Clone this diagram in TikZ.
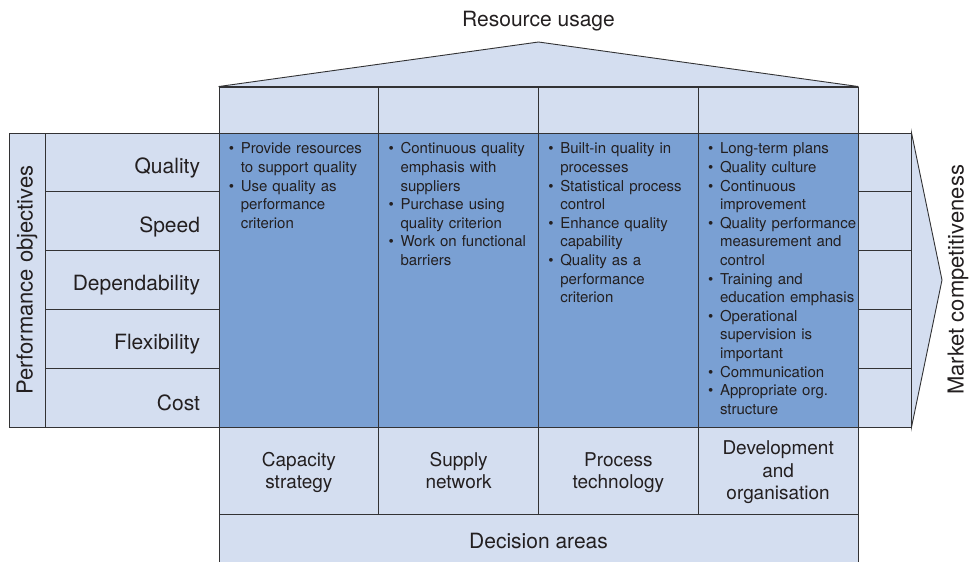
\documentclass[tikz,border=0pt]{standalone}
\usepackage{fontspec}
\setmainfont{TeX Gyre Heros}
\usetikzlibrary{positioning}
\definecolor{lightblue}{RGB}{212,222,240}
\definecolor{midblue}{RGB}{122,160,211}
\definecolor{linegray}{RGB}{50,50,52}
\definecolor{textgray}{RGB}{35,31,32}
\newcommand{\bitem}[1]{\par\hangindent=12pt\hangafter=1\noindent\makebox[12pt][l]{\textbullet}#1}
\tikzset{
	cell/.style={draw=linegray,fill=lightblue,line width=0.9pt,inner sep=0,text=textgray},
	colcell/.style={cell,minimum width=159.75pt},
	bluecell/.style={colcell,fill=midblue,minimum height=294pt},
	rowcell/.style={cell,minimum width=174pt,minimum height=58.8pt,text width=136pt,align=right,
		font=\fontsize{21}{24}\selectfont},
	mktcell/.style={cell,minimum width=53pt,minimum height=58.8pt},
	biglabel/.style={text=textgray,font=\fontsize{21}{24}\selectfont},
	declabel/.style={colcell,minimum height=87pt,align=center,font=\fontsize{19}{22.5}\selectfont},
	notes/.style={anchor=north west,inner xsep=10pt,inner ysep=2.5pt,text width=150pt,align=left,
		text=textgray,font=\fontsize{15}{18.6}\selectfont}
}
\begin{document}
\begin{tikzpicture}[x=1pt,y=-1pt]
	\useasboundingbox (0,0) rectangle (977,562);

	%% roof: resource usage
	\coordinate (apex) at (538.5,42);
	\foreach \i in {1,...,4}
		\node[colcell,minimum height=46pt] (res\i) at ({219+159.75*(\i-0.5)},110) {};
	\filldraw[fill=lightblue,draw=linegray,line width=0.9pt]
		(res1.north west) -- (apex) -- (res4.north east) -- cycle;
	\node[biglabel] (resusage) at (538.5,21) {Resource usage};

	%% performance objectives (left)
	\node[cell,rotate=90,minimum width=294pt,minimum height=36pt,
		font=\fontsize{22}{24}\selectfont] (perfobj) at (27,280) {Performance objectives};
	\foreach \lab [count=\i] in {Quality,Speed,Dependability,Flexibility,Cost}
		\node[rowcell] (obj\i) at (132,{133+58.8*(\i-0.5)}) {\raisebox{-5.5pt}[\height][\depth]{\lab}};

	%% market competitiveness (right)
	\foreach \i in {1,...,5}
		\node[mktcell] (mkt\i) at (884.5,{133+58.8*(\i-0.5)}) {};
	\coordinate (tip) at (942,280);
	\filldraw[fill=lightblue,draw=linegray,line width=0.9pt]
		(mkt1.north east) -- (tip) -- (mkt5.south east) -- cycle;
	\node[biglabel,rotate=90,font=\fontsize{22}{24}\selectfont] (market) at (958,280) {Market competitiveness};

	%% quality contributions
	\foreach \i in {1,...,4}
		\node[bluecell] (qual\i) at ({219+159.75*(\i-0.5)},280) {};
	\node[notes] (note1) at (qual1.north west) {%
		\bitem{Provide resources\newline to support quality}
		\bitem{Use quality as\newline performance\newline criterion}\par};
	\node[notes] (note2) at (qual2.north west) {%
		\bitem{Continuous quality\newline emphasis with\newline suppliers}
		\bitem{Purchase using\newline quality criterion}
		\bitem{Work on functional\newline barriers}\par};
	\node[notes] (note3) at (qual3.north west) {%
		\bitem{Built-in quality in\newline processes}
		\bitem{Statistical process\newline control}
		\bitem{Enhance quality\newline capability}
		\bitem{Quality as a\newline performance\newline criterion}\par};
	\node[notes] (note4) at (qual4.north west) {%
		\bitem{Long-term plans}
		\bitem{Quality culture}
		\bitem{Continuous\newline improvement}
		\bitem{Quality performance\newline measurement and\newline control}
		\bitem{Training and\newline education emphasis}
		\bitem{Operational\newline supervision is\newline important}
		\bitem{Communication}
		\bitem{Appropriate org.\newline structure}\par};

	%% decision areas (bottom)
	\foreach \lab [count=\i] in {Capacity\\strategy,Supply\\network,Process\\technology,
		Development\\and\\organisation}
		\node[declabel,text depth=-6pt] (dec\i) at ({219+159.75*(\i-0.5)},470.5) {\lab};
	\node[cell,minimum width=639pt,minimum height=54pt,
		font=\fontsize{21}{24}\selectfont] (decareas) at (538.5,541) {Decision areas};

\end{tikzpicture}
\end{document}
